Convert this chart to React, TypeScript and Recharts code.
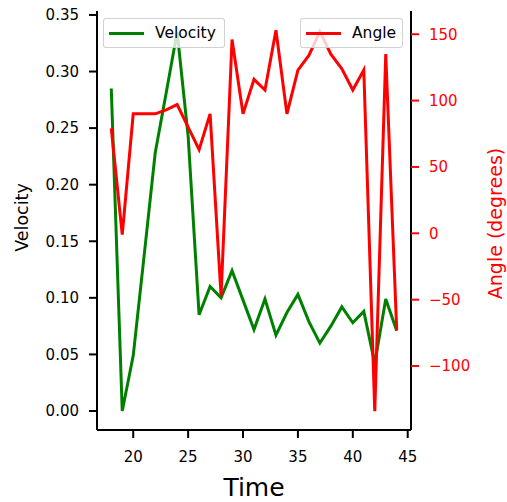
import React from "react";
import { LineChart, Line, XAxis, YAxis } from "recharts";

// values
const times = [18, 19, 20, 21, 22, 23, 24, 25, 26, 27, 28, 29, 30, 31, 32, 33, 34, 35, 36, 37, 38, 39, 40, 41, 42, 43, 44];
const velocity = [0.285, 0.0, 0.049, 0.138, 0.228, 0.281, 0.335, 0.243, 0.085, 0.11, 0.1, 0.124, 0.098, 0.072, 0.099, 0.067, 0.087, 0.103, 0.079, 0.06, 0.075, 0.092, 0.078, 0.088, 0.042, 0.099, 0.071];
const angle = [79, -1, 90, 90, 90, 93, 97, 80, 63, 90, -47, 146, 90, 116, 108, 153, 90, 123, 134, 152, 135, 124, 108, 123, -134, 135, -73];

const timeTicks = [20, 25, 30, 35, 40, 45];
const velocityTicks = [0, 0.05, 0.1, 0.15, 0.2, 0.25, 0.3, 0.35];
const angleTicks = [-100, -50, 0, 50, 100, 150];

const data = times.map((t, i) => ({ time: t, velocity: velocity[i], angle: angle[i] }));

const FONT = "'DejaVu Sans', sans-serif";
const GREEN = "#008000";
const RED = "#ff0000";

const fmtAngle = (v: number) => (v < 0 ? `\u2212${Math.abs(v)}` : `${v}`);

// matplotlib-style legend box
function LegendBox({ left, width, color, text }: { left: number; width: number; color: string; text: string }) {
  return (
    <div
      style={{
        position: "absolute",
        left,
        top: 18,
        width,
        height: 30,
        boxSizing: "border-box",
        border: "1px solid rgba(204,204,204,0.9)",
        borderRadius: 3,
        background: "rgba(255,255,255,0.8)",
        display: "flex",
        alignItems: "center",
      }}
    >
      <div style={{ marginLeft: 5, width: 35, height: 3, background: color }} />
      <span style={{ marginLeft: 11, fontSize: 15.5, color: "#000", lineHeight: "30px" }}>{text}</span>
    </div>
  );
}

export default function App() {
  return (
    <div style={{ position: "absolute", left: 0, top: 0, width: 507, height: 502, fontFamily: FONT, background: "#fff" }}>
      <LineChart width={507} height={502} data={data} margin={{ top: 11, right: 0, bottom: 0, left: 0 }}>
        <XAxis
          dataKey="time"
          type="number"
          domain={[16.7, 45.3]}
          ticks={timeTicks}
          allowDataOverflow
          height={72}
          axisLine={{ stroke: "#000", strokeWidth: 2 }}
          tickLine={{ stroke: "#000", strokeWidth: 2 }}
          tickSize={8}
          tickMargin={13}
          tick={{ fill: "#000", fontSize: 15, fontFamily: FONT }}
          label={{
            content: ({ viewBox }: any) => (
              <text x={viewBox.x + viewBox.width / 2} y={496} textAnchor="middle" fontSize={25} fontFamily={FONT} fill="#000">
                Time
              </text>
            ),
          }}
        />
        <XAxis
          xAxisId="top"
          orientation="top"
          dataKey="time"
          type="number"
          domain={[16.7, 45.3]}
          height={0}
          tick={false}
          tickLine={false}
          axisLine={{ stroke: "#000", strokeWidth: 2 }}
        />
        <YAxis
          yAxisId="left"
          orientation="left"
          type="number"
          width={97}
          domain={[-0.0168, 0.3535]}
          ticks={velocityTicks}
          allowDataOverflow
          tickFormatter={(v: number) => v.toFixed(2)}
          axisLine={{ stroke: "#000", strokeWidth: 2 }}
          tickLine={{ stroke: "#000", strokeWidth: 2 }}
          tickSize={8}
          tickMargin={10}
          tick={{ fill: "#000", fontSize: 15, fontFamily: FONT }}
          label={{
            content: ({ viewBox }: any) => {
              const cy = viewBox.y + viewBox.height / 2 - 3;
              return (
                <text x={22} y={cy} transform={`rotate(-90 22 ${cy})`} textAnchor="middle" dominantBaseline="central" fontSize={17.5} fontFamily={FONT} fill="#000">
                  Velocity
                </text>
              );
            },
          }}
        />
        <YAxis
          yAxisId="right"
          orientation="right"
          type="number"
          width={96}
          domain={[-148.2, 167.5]}
          ticks={angleTicks}
          allowDataOverflow
          tickFormatter={fmtAngle}
          axisLine={{ stroke: "#000", strokeWidth: 2 }}
          tickLine={{ stroke: RED, strokeWidth: 2 }}
          tickSize={8}
          tickMargin={10}
          tick={{ fill: RED, fontSize: 15, fontFamily: FONT }}
          label={{
            content: ({ viewBox }: any) => {
              const cy = viewBox.y + viewBox.height / 2 + 3;
              return (
                <text x={495} y={cy} transform={`rotate(-90 495 ${cy})`} textAnchor="middle" dominantBaseline="central" fontSize={19} fontFamily={FONT} fill={RED}>
                  Angle (degrees)
                </text>
              );
            },
          }}
        />
        <Line yAxisId="left" dataKey="velocity" stroke={GREEN} strokeWidth={3} dot={false} isAnimationActive={false} />
        <Line yAxisId="right" dataKey="angle" stroke={RED} strokeWidth={3} dot={false} isAnimationActive={false} />
      </LineChart>
      <LegendBox left={103} width={122} color={GREEN} text="Velocity" />
      <LegendBox left={300} width={103} color={RED} text="Angle" />
    </div>
  );
}
